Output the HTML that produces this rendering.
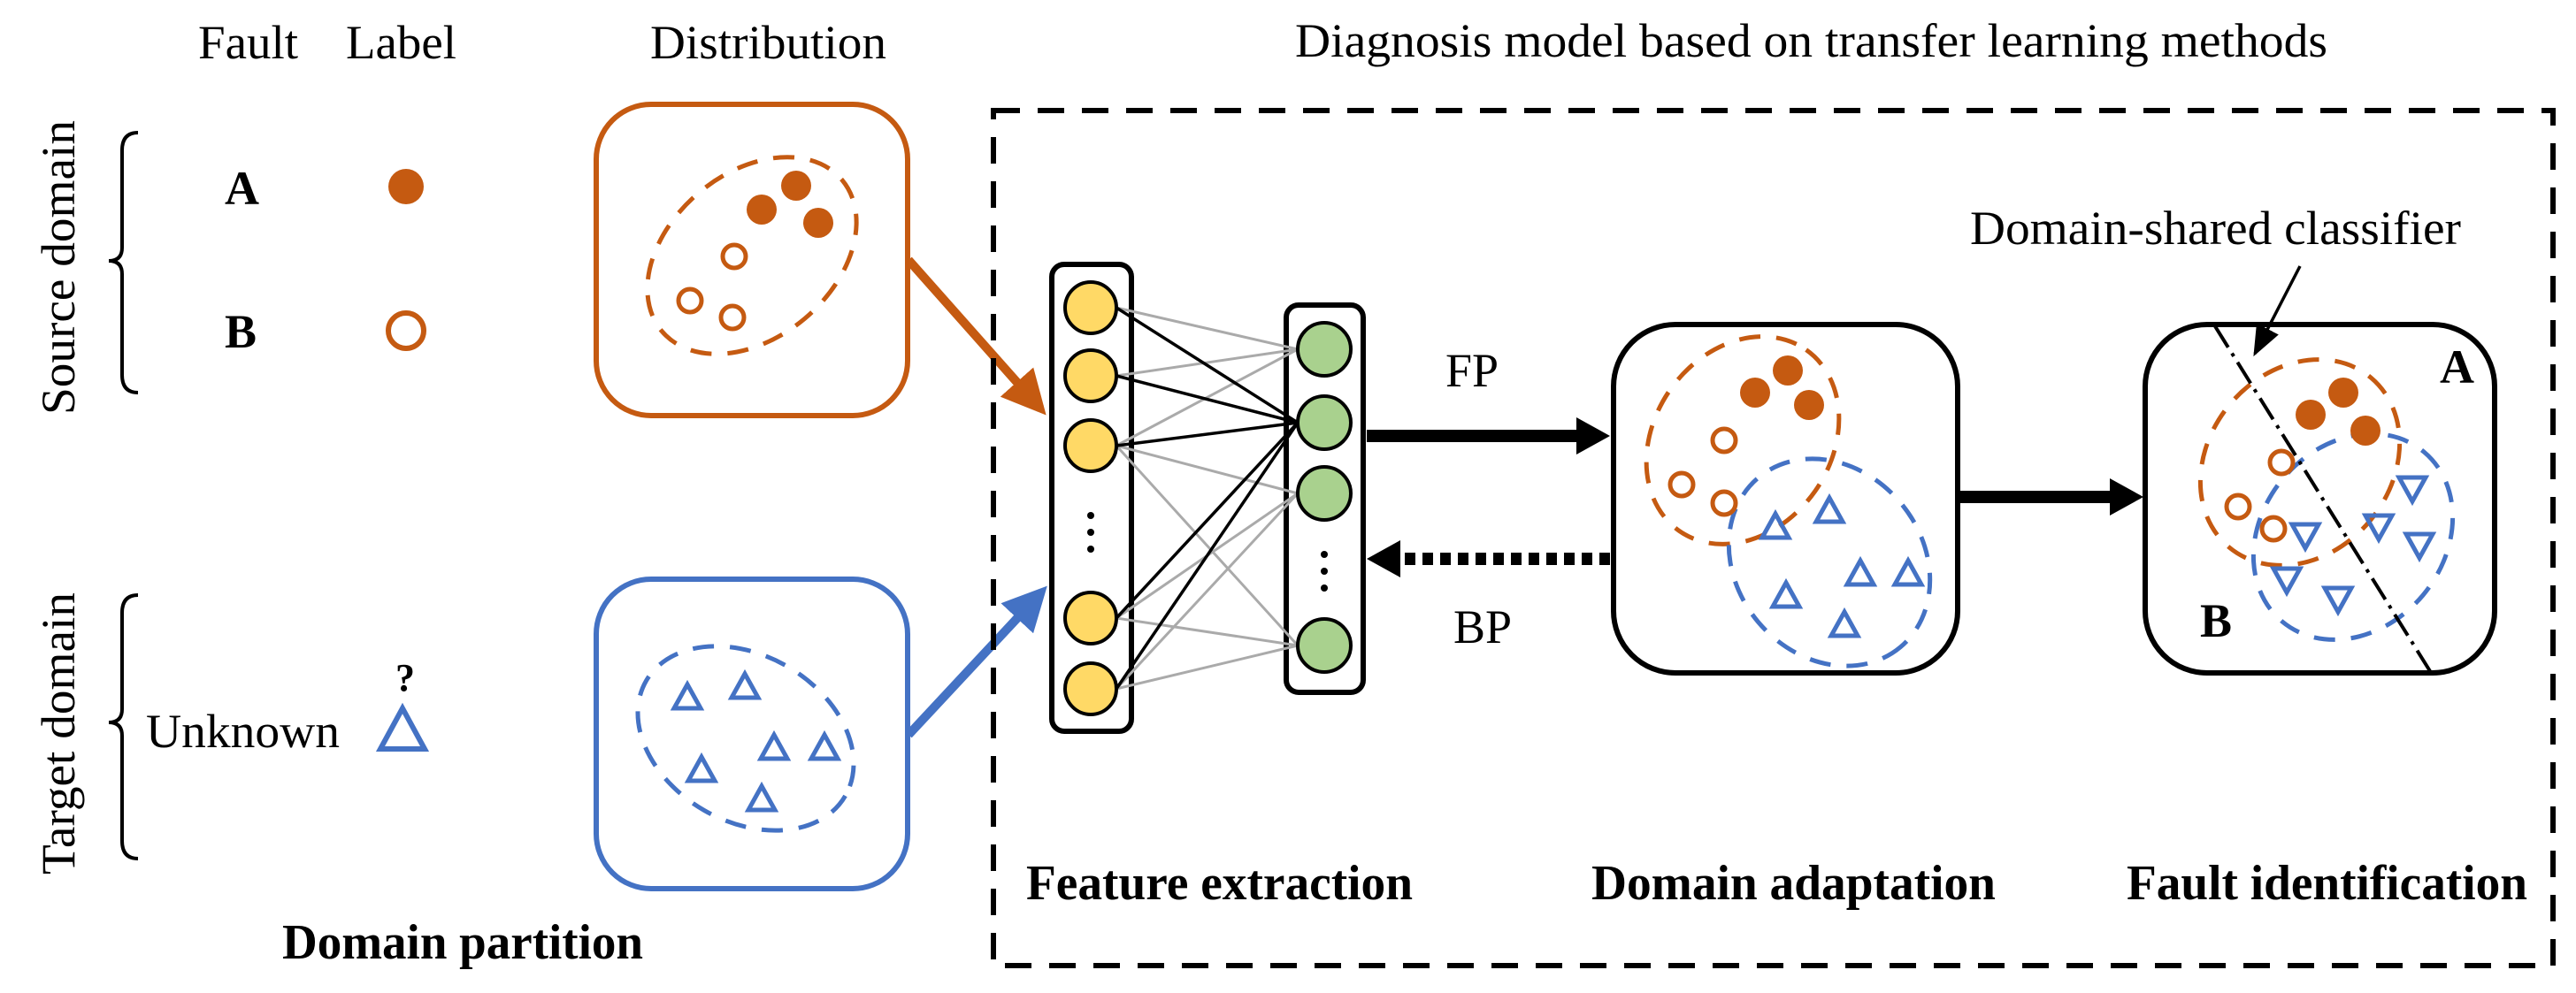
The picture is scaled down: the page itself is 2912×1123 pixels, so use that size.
<!DOCTYPE html>
<html><head><meta charset="utf-8"><style>html,body{margin:0;padding:0;background:#fff}svg{display:block}</style></head>
<body>
<svg width="2912" height="1123" viewBox="0 0 2912 1123" xmlns="http://www.w3.org/2000/svg" font-family="'Liberation Serif', serif">
<defs>
<marker id="ao" markerWidth="5" markerHeight="5" refX="4" refY="2.5" orient="auto" markerUnits="strokeWidth"><path d="M0,0 L5,2.5 L0,5 z" fill="#c55a11"/></marker>
<marker id="ab" markerWidth="5" markerHeight="5" refX="4" refY="2.5" orient="auto" markerUnits="strokeWidth"><path d="M0,0 L5,2.5 L0,5 z" fill="#4472c4"/></marker>
<marker id="ak2" markerWidth="10" markerHeight="10" refX="9" refY="5" orient="auto" markerUnits="strokeWidth"><path d="M0,1 L10,5 L0,9 z" fill="#000"/></marker>
</defs>
<rect width="2912" height="1123" fill="#fff"/>
<g font-size="54" fill="#000">
<text x="224" y="66" textLength="113" lengthAdjust="spacingAndGlyphs">Fault</text>
<text x="391" y="66" textLength="125" lengthAdjust="spacingAndGlyphs">Label</text>
<text x="735" y="66" textLength="267" lengthAdjust="spacingAndGlyphs">Distribution</text>
<text x="1464" y="64" textLength="1167" lengthAdjust="spacingAndGlyphs">Diagnosis model based on transfer learning methods</text>
<text transform="translate(84,469) rotate(-90)" textLength="333" lengthAdjust="spacingAndGlyphs">Source domain</text>
<text transform="translate(84,989) rotate(-90)" textLength="319" lengthAdjust="spacingAndGlyphs">Target domain</text>
<text x="165" y="845" textLength="219" lengthAdjust="spacingAndGlyphs">Unknown</text>
<text x="2227" y="276" textLength="555" lengthAdjust="spacingAndGlyphs">Domain-shared classifier</text>
<text x="1634" y="437">FP</text>
<text x="1643" y="727">BP</text>
</g>
<g font-size="54" font-weight="bold" fill="#000">
<text x="254" y="231">A</text>
<text x="254" y="393">B</text>
<text x="447" y="781" font-size="44">?</text>
<text x="2758" y="433">A</text>
<text x="2487" y="720">B</text>
<text x="319" y="1084" font-size="56" textLength="408" lengthAdjust="spacingAndGlyphs">Domain partition</text>
<text x="1160" y="1017" font-size="56" textLength="437" lengthAdjust="spacingAndGlyphs">Feature extraction</text>
<text x="1799" y="1017" font-size="56" textLength="457" lengthAdjust="spacingAndGlyphs">Domain adaptation</text>
<text x="2404" y="1017" font-size="56" textLength="453" lengthAdjust="spacingAndGlyphs">Fault identification</text>
</g>
<g fill="none" stroke="#000" stroke-width="4">
<path d="M156,150 Q138,150 138,170 L138,280 Q138,295 123,295 Q138,295 138,310 L138,424 Q138,444 156,444"/>
<path d="M156,673 Q138,673 138,693 L138,802 Q138,817 123,817 Q138,817 138,832 L138,951 Q138,971 156,971"/>
</g>
<circle cx="459" cy="211" r="20" fill="#c55a11"/>
<circle cx="459" cy="374" r="20" fill="none" stroke="#c55a11" stroke-width="6"/>
<path d="M455,801 L480,847 L430,847 z" fill="none" stroke="#4472c4" stroke-width="6"/>
<rect x="674" y="118" width="352" height="352" rx="62" fill="none" stroke="#c55a11" stroke-width="6"/>
<rect x="674" y="655" width="352" height="350" rx="62" fill="none" stroke="#4472c4" stroke-width="6"/>
<ellipse cx="850" cy="289" rx="133" ry="93" transform="rotate(-40 850 289)" fill="none" stroke="#c55a11" stroke-width="5" stroke-dasharray="24,18"/>
<g fill="#c55a11"><circle cx="861" cy="237" r="17"/><circle cx="900" cy="210" r="17"/><circle cx="925" cy="252" r="17"/></g>
<g fill="none" stroke="#c55a11" stroke-width="5"><circle cx="830" cy="290" r="13"/><circle cx="780" cy="340" r="13"/><circle cx="828" cy="359" r="13"/></g>
<ellipse cx="843" cy="835" rx="130" ry="94" transform="rotate(30 843 835)" fill="none" stroke="#4472c4" stroke-width="5" stroke-dasharray="24,18"/>
<g fill="none" stroke="#4472c4" stroke-width="5">
<path d="M777,774 L792,801 L762,801 z"/><path d="M842,762 L857,789 L827,789 z"/><path d="M793,856 L808,883 L778,883 z"/><path d="M875,831 L890,858 L860,858 z"/><path d="M932,831 L947,858 L917,858 z"/><path d="M861,889 L876,916 L846,916 z"/>
</g>
<line x1="1027" y1="294" x2="1176" y2="462" stroke="#c55a11" stroke-width="10" marker-end="url(#ao)"/>
<line x1="1027" y1="831" x2="1177" y2="670" stroke="#4472c4" stroke-width="10" marker-end="url(#ab)"/>
<rect x="1123" y="125" width="1763" height="967" fill="none" stroke="#000" stroke-width="6" stroke-dasharray="30,20"/>
<rect x="1189" y="299" width="90" height="528" rx="14" fill="#fff" stroke="#000" stroke-width="6"/>
<rect x="1454" y="345" width="87" height="438" rx="14" fill="#fff" stroke="#000" stroke-width="6"/>
<g stroke="#aaa" stroke-width="3">
<line x1="1262" y1="348" x2="1467" y2="395"/><line x1="1262" y1="425" x2="1467" y2="395"/><line x1="1262" y1="504" x2="1467" y2="395"/>
<line x1="1262" y1="504" x2="1467" y2="558"/><line x1="1262" y1="504" x2="1467" y2="730"/>
<line x1="1262" y1="699" x2="1467" y2="558"/><line x1="1262" y1="699" x2="1467" y2="730"/>
<line x1="1262" y1="779" x2="1467" y2="558"/><line x1="1262" y1="779" x2="1467" y2="730"/>
</g>
<g stroke="#000" stroke-width="3.5">
<line x1="1262" y1="348" x2="1467" y2="478"/><line x1="1262" y1="425" x2="1467" y2="478"/><line x1="1262" y1="504" x2="1467" y2="478"/>
<line x1="1262" y1="699" x2="1467" y2="478"/><line x1="1262" y1="779" x2="1467" y2="478"/>
</g>
<g fill="#ffd966" stroke="#000" stroke-width="4">
<circle cx="1233" cy="348" r="29"/><circle cx="1233" cy="425" r="29"/><circle cx="1233" cy="504" r="29"/><circle cx="1233" cy="699" r="29"/><circle cx="1233" cy="779" r="29"/>
</g>
<g fill="#a9d18e" stroke="#000" stroke-width="4">
<circle cx="1497" cy="395" r="30"/><circle cx="1497" cy="478" r="30"/><circle cx="1497" cy="558" r="30"/><circle cx="1497" cy="730" r="30"/>
</g>
<g fill="#000"><circle cx="1233" cy="583" r="4"/><circle cx="1233" cy="602" r="4"/><circle cx="1233" cy="621" r="4"/>
<circle cx="1497" cy="627" r="4"/><circle cx="1497" cy="646" r="4"/><circle cx="1497" cy="665" r="4"/></g>
<line x1="1545" y1="493" x2="1790" y2="493" stroke="#000" stroke-width="14"/>
<path d="M1782,472 L1820,493 L1782,514 z" fill="#000"/>
<line x1="1820" y1="632" x2="1580" y2="632" stroke="#000" stroke-width="14" stroke-dasharray="12,8"/>
<path d="M1583,611 L1545,632 L1583,653 z" fill="#000"/>
<rect x="1824" y="367" width="389" height="394" rx="70" fill="none" stroke="#000" stroke-width="6"/>
<ellipse cx="1970" cy="498" rx="125" ry="100" transform="rotate(-55 1970 498)" fill="none" stroke="#c55a11" stroke-width="5" stroke-dasharray="24,18"/>
<ellipse cx="2068" cy="636" rx="125" ry="105" transform="rotate(50 2068 636)" fill="none" stroke="#4472c4" stroke-width="5" stroke-dasharray="24,18"/>
<g fill="#c55a11"><circle cx="1984" cy="444" r="17"/><circle cx="2021" cy="419" r="17"/><circle cx="2045" cy="458" r="17"/></g>
<g fill="none" stroke="#c55a11" stroke-width="5"><circle cx="1949" cy="498" r="13"/><circle cx="1901" cy="548" r="13"/><circle cx="1949" cy="569" r="13"/></g>
<g fill="none" stroke="#4472c4" stroke-width="5">
<path d="M2007,581 L2022,608 L1992,608 z"/><path d="M2068,563 L2083,590 L2053,590 z"/><path d="M2019,659 L2034,686 L2004,686 z"/><path d="M2103,634 L2118,661 L2088,661 z"/><path d="M2157,634 L2172,661 L2142,661 z"/><path d="M2085,692 L2100,719 L2070,719 z"/>
</g>
<line x1="2215" y1="562" x2="2390" y2="562" stroke="#000" stroke-width="14"/>
<path d="M2385,541 L2423,562 L2385,583 z" fill="#000"/>
<rect x="2425" y="367" width="395" height="394" rx="70" fill="none" stroke="#000" stroke-width="6"/>
<ellipse cx="2600" cy="523" rx="125" ry="103" transform="rotate(-50 2600 523)" fill="none" stroke="#c55a11" stroke-width="5" stroke-dasharray="24,18"/>
<ellipse cx="2660" cy="607" rx="125" ry="103" transform="rotate(-50 2660 607)" fill="none" stroke="#4472c4" stroke-width="5" stroke-dasharray="24,18"/>
<g fill="#c55a11"><circle cx="2612" cy="469" r="17"/><circle cx="2649" cy="444" r="17"/><circle cx="2674" cy="487" r="17"/></g>
<g fill="none" stroke="#c55a11" stroke-width="5"><circle cx="2579" cy="523" r="13"/><circle cx="2530" cy="573" r="13"/><circle cx="2570" cy="598" r="13"/></g>
<g fill="none" stroke="#4472c4" stroke-width="5">
<path d="M2712,540 L2742,540 L2727,567 z"/><path d="M2674,583 L2704,583 L2689,610 z"/><path d="M2720,604 L2750,604 L2735,631 z"/><path d="M2591,593 L2621,593 L2606,620 z"/><path d="M2570,643 L2600,643 L2585,670 z"/><path d="M2628,665 L2658,665 L2643,692 z"/>
</g>
<line x1="2504" y1="369" x2="2747" y2="759" stroke="#000" stroke-width="4" stroke-dasharray="28,8,4,8"/>
<line x1="2600" y1="301" x2="2549" y2="400" stroke="#000" stroke-width="3.5" marker-end="url(#ak2)"/>
</svg>
</body></html>
